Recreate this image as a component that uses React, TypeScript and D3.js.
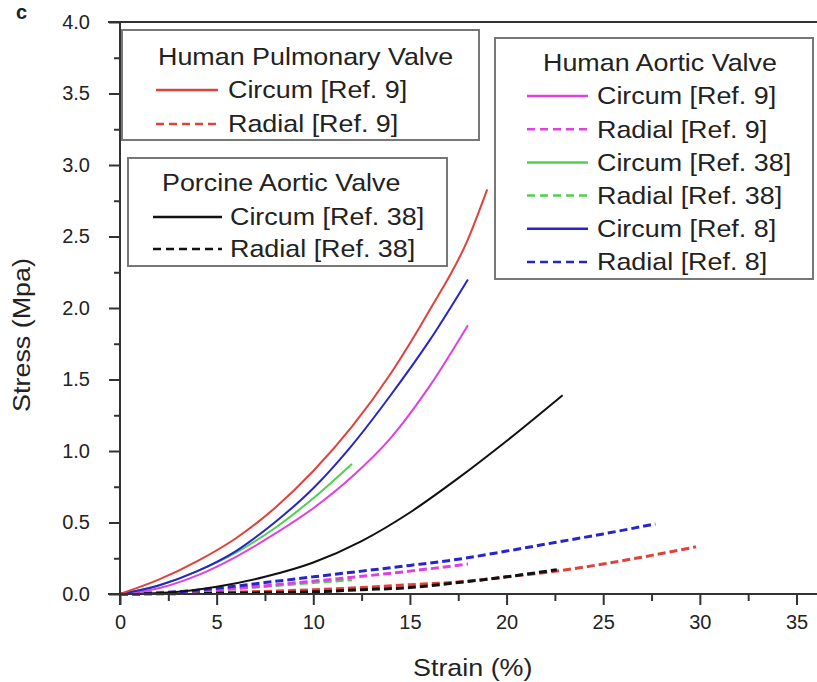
import React, { useEffect, useRef } from 'react';
import * as d3 from 'd3';

// strain (%) , stress (MPa)
const pulmCircum9: [number, number][] = [[0, 0], [2, 0.1], [4, 0.23], [6, 0.39], [8, 0.6], [10, 0.86], [12, 1.17], [14, 1.54], [16, 1.98], [18, 2.48], [19, 2.83]];
const pulmRadial9: [number, number][] = [[0, 0], [5, 0.01], [10, 0.03], [12.5, 0.045], [15, 0.065], [17.6, 0.085], [20, 0.12], [22.6, 0.16], [25, 0.21], [27.5, 0.27], [29.8, 0.33]];
const porcCircum38: [number, number][] = [[0, 0], [2.5, 0.01], [5, 0.05], [7.5, 0.12], [10, 0.22], [12.5, 0.37], [15, 0.57], [17.5, 0.81], [20, 1.07], [22.9, 1.39]];
const porcRadial38: [number, number][] = [[0, 0], [5, 0.005], [10, 0.015], [12.5, 0.03], [15, 0.045], [17.5, 0.08], [20, 0.12], [22.6, 0.17]];
const aortCircum9: [number, number][] = [[0, 0], [2, 0.04], [4, 0.13], [6, 0.26], [8, 0.42], [10, 0.6], [12, 0.82], [14, 1.09], [16, 1.45], [18, 1.88]];
const aortRadial9: [number, number][] = [[0, 0], [5, 0.03], [10, 0.09], [15, 0.16], [18, 0.21]];
const aortCircum38: [number, number][] = [[0, 0], [2, 0.06], [4, 0.16], [6, 0.29], [8, 0.46], [10, 0.67], [12, 0.91]];
const aortRadial38: [number, number][] = [[0, 0], [5, 0.03], [10, 0.08], [12, 0.1]];
const aortCircum8: [number, number][] = [[0, 0], [2, 0.06], [4, 0.16], [6, 0.3], [8, 0.5], [10, 0.74], [12, 1.04], [14, 1.39], [16, 1.77], [18, 2.2]];
const aortRadial8: [number, number][] = [[0, 0], [2.5, 0.01], [5, 0.04], [7.5, 0.08], [10, 0.12], [12.5, 0.16], [15, 0.2], [17.6, 0.245], [20, 0.3], [22.5, 0.36], [25, 0.42], [27.7, 0.49]];

const xTicks = [0, 5, 10, 15, 20, 25, 30, 35];
const yTicks = [0, 0.5, 1, 1.5, 2, 2.5, 3, 3.5, 4];

const RED = '#e0413a', BLACK = '#111', MAGENTA = '#e040e0', GREEN = '#4fd04f', BLUE = '#2626c8';

const series = [
  { data: pulmRadial9, color: RED, dashed: true },
  { data: porcRadial38, color: BLACK, dashed: true },
  { data: aortRadial38, color: GREEN, dashed: true },
  { data: aortRadial9, color: MAGENTA, dashed: true },
  { data: aortRadial8, color: BLUE, dashed: true },
  { data: porcCircum38, color: BLACK, dashed: false },
  { data: aortCircum9, color: MAGENTA, dashed: false },
  { data: aortCircum38, color: GREEN, dashed: false },
  { data: aortCircum8, color: BLUE, dashed: false },
  { data: pulmCircum9, color: RED, dashed: false },
];

const legends = [
  { title: 'Human Pulmonary Valve', box: [122, 30, 479, 140], titleX: 158, titleY: 57, rowY: 90, step: 34, lineX: [156, 218], textX: 228,
    rows: [{ label: 'Circum [Ref. 9]', color: RED, dashed: false }, { label: 'Radial [Ref. 9]', color: RED, dashed: true }] },
  { title: 'Porcine Aortic Valve', box: [128, 158, 447, 266], titleX: 162, titleY: 183, rowY: 217, step: 32, lineX: [153, 222], textX: 230,
    rows: [{ label: 'Circum [Ref. 38]', color: BLACK, dashed: false }, { label: 'Radial [Ref. 38]', color: BLACK, dashed: true }] },
  { title: 'Human Aortic Valve', box: [495, 38, 813, 279], titleX: 543, titleY: 63, rowY: 96, step: 33.2, lineX: [527, 588], textX: 597,
    rows: [
      { label: 'Circum [Ref. 9]', color: MAGENTA, dashed: false },
      { label: 'Radial [Ref. 9]', color: MAGENTA, dashed: true },
      { label: 'Circum [Ref. 38]', color: GREEN, dashed: false },
      { label: 'Radial [Ref. 38]', color: GREEN, dashed: true },
      { label: 'Circum [Ref. 8]', color: BLUE, dashed: false },
      { label: 'Radial [Ref. 8]', color: BLUE, dashed: true },
    ] },
];

const FONT = '"Liberation Sans", Arial, sans-serif';

const W = 817, H = 682;
const x = d3.scaleLinear().domain([0, 35]).range([120, 796.5]);
const y = d3.scaleLinear().domain([0, 4]).range([594, 22]);

function Label({ tx, ty, text, size = 24 }: { tx: number; ty: number; text: string; size?: number }) {
  return (
    <g transform={`translate(${tx},${ty}) scale(1.12,1)`}>
      <text fontFamily={FONT} fontSize={size} fill="#222" dominantBaseline="central">{text}</text>
    </g>
  );
}

export default function App() {
  const axRef = useRef<SVGGElement>(null);

  useEffect(() => {
    const g = d3.select(axRef.current);
    g.selectAll('*').remove();

    // minor ticks
    g.append('g')
      .attr('transform', 'translate(0,594)')
      .call(d3.axisBottom(x).tickValues(d3.range(2.5, 36, 5)).tickSize(7).tickFormat(() => ''))
      .call(s => s.select('.domain').remove());
    g.append('g')
      .attr('transform', 'translate(120,0)')
      .call(d3.axisLeft(y).tickValues(d3.range(0.25, 4, 0.5)).tickSize(6).tickFormat(() => ''))
      .call(s => s.select('.domain').remove());

    // major ticks
    g.append('g')
      .attr('transform', 'translate(0,594)')
      .call(d3.axisBottom(x).tickValues(xTicks).tickSize(11).tickPadding(10).tickFormat(d3.format('d')))
      .call(s => s.select('.domain').remove());
    g.append('g')
      .attr('transform', 'translate(120,0)')
      .call(d3.axisLeft(y).tickValues(yTicks).tickSize(11).tickPadding(19).tickFormat(d3.format('.1f')))
      .call(s => s.select('.domain').remove());

    g.selectAll('.tick line').attr('stroke', '#333').attr('stroke-width', 2);
    g.selectAll('.tick text').attr('font-family', FONT).attr('font-size', 20).attr('fill', '#222');

    // axis lines
    g.append('line').attr('x1', 108).attr('x2', W).attr('y1', 594).attr('y2', 594).attr('stroke', '#333').attr('stroke-width', 2);
    g.append('line').attr('x1', 108).attr('x2', W).attr('y1', 22).attr('y2', 22).attr('stroke', '#333').attr('stroke-width', 2);
    g.append('line').attr('x1', 120).attr('x2', 120).attr('y1', 21).attr('y2', 605).attr('stroke', '#333').attr('stroke-width', 2);
  }, []);

  const line = d3.line<[number, number]>().x(d => x(d[0])).y(d => y(d[1])).curve(d3.curveMonotoneX);

  return (
    <svg width={W} height={H} style={{ position: 'absolute', left: 0, top: 0, background: '#fff' }}>
      <rect width={W} height={H} fill="#fff" />
      <text x={16} y={19} fontFamily={FONT} fontSize={20} fontWeight="bold" fill="#222">c</text>

      {series.map((s, i) => (
        <path key={i} d={line(s.data) ?? ''} fill="none" stroke={s.color}
          strokeWidth={s.dashed ? 3 : 2} strokeDasharray={s.dashed ? '8,4' : undefined} />
      ))}

      <g ref={axRef} />

      {legends.map((lg, li) => (
        <g key={li}>
          <rect x={lg.box[0]} y={lg.box[1]} width={lg.box[2] - lg.box[0]} height={lg.box[3] - lg.box[1]}
            fill="#fff" stroke="#777" strokeWidth={2} />
          <Label tx={lg.titleX} ty={lg.titleY} text={lg.title} />
          {lg.rows.map((r, ri) => {
            const cy = lg.rowY + ri * lg.step;
            return (
              <g key={ri}>
                <line x1={lg.lineX[0]} x2={lg.lineX[1]} y1={cy} y2={cy} stroke={r.color} strokeWidth={2.5}
                  strokeDasharray={r.dashed ? '8,5' : undefined} />
                <Label tx={lg.textX} ty={cy} text={r.label} />
              </g>
            );
          })}
        </g>
      ))}

      <Label tx={413} ty={668} text="Strain (%)" />
      <g transform="translate(22,335) rotate(-90)">
        <g transform="scale(1.12,1)">
          <text fontFamily={FONT} fontSize={24} fill="#222" textAnchor="middle" dominantBaseline="central">Stress (Mpa)</text>
        </g>
      </g>
    </svg>
  );
}
